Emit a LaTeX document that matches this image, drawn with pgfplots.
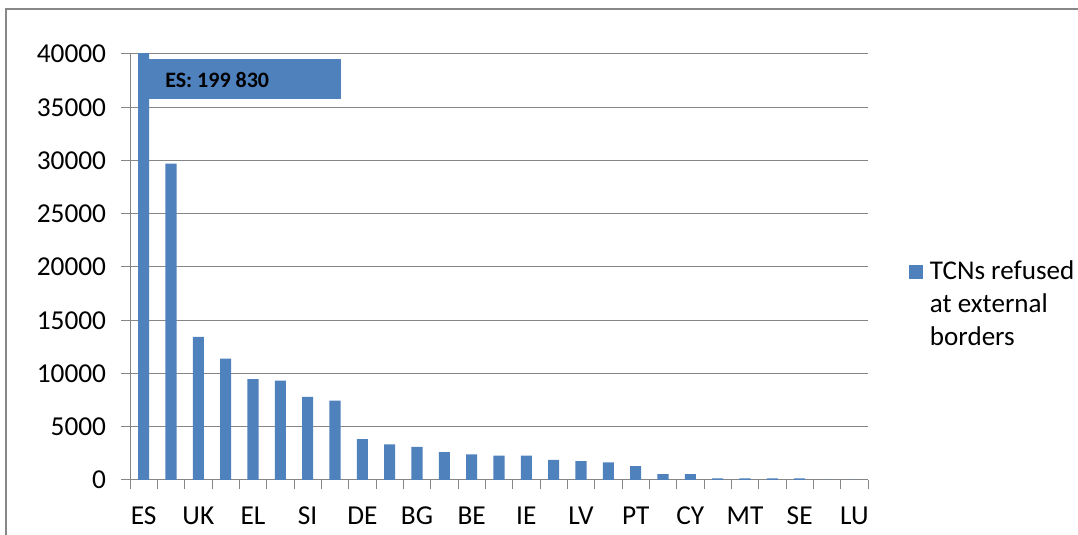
\documentclass[border=0pt]{standalone}
\usepackage{pgfplots}
\pgfplotsset{compat=1.18}
\usepackage{fontspec}
\setmainfont{Carlito}
\definecolor{barblue}{RGB}{79,129,189}
\definecolor{gridgray}{RGB}{134,134,134}
\definecolor{framegray}{RGB}{136,136,136}
\begin{document}
\begin{tikzpicture}[x=1pt,y=1pt]
\useasboundingbox (0,0) rectangle (808.5,401.25);
\draw[framegray, line width=1.5pt] (4.5,-20) rectangle (830,394.5);
\begin{axis}[
  at={(97.5pt,41.25pt)}, anchor=south west,
  scale only axis, width=553.5pt, height=319.5pt,
  xmin=-0.5, xmax=26.5, ymin=0, ymax=40000,
  axis lines*=left,
  axis line style={gridgray, line width=0.75pt, -},
  ytick={0,5000,...,40000},
  scaled y ticks=false,
  yticklabel style={/pgf/number format/1000 sep={}, inner sep=0pt, xshift=-11pt},
  /pgf/number format/assume math mode=true,
  ymajorgrids, grid style={gridgray, line width=0.75pt},
  xtick={-0.5,0.5,...,26.5},
  xticklabels={},
  extra x ticks={0,2,...,26},
  extra x tick labels={ES,UK,EL,SI,DE,BG,BE,IE,LV,PT,CY,MT,SE,LU},
  extra x tick style={major tick length=0pt, xticklabel style={inner sep=0pt, yshift=-20pt}},
  tick align=outside, major tick length=6.75pt,
  tick style={gridgray, line width=0.75pt},
  ticklabel style={font=\fontsize{20.5}{24}\selectfont, text=black},
  ybar, bar width=8.3pt,
  clip=true,
  legend style={at={(axis description cs:1.0556,0.526)}, anchor=north west, draw=none, fill=none,
    inner sep=0pt, column sep=5pt, cells={anchor=base west},
    nodes={inner sep=0pt}, font=\fontsize{20.3}{24.75}\selectfont},
  legend image code/.code={\fill[#1] (0pt,0pt) rectangle (10.5pt,10.5pt);},
]
\addplot[fill=barblue, draw=none] coordinates {
(0,199830) (1,29700) (2,13450) (3,11400) (4,9480) (5,9340) (6,7800) (7,7450)
(8,3840) (9,3340) (10,3120) (11,2620) (12,2400) (13,2280) (14,2280) (15,1900)
(16,1780) (17,1650) (18,1310) (19,560) (20,560) (21,160) (22,160) (23,160)
(24,160) (25,0) (26,0)};
\addlegendentry{\begin{tabular}[t]{@{}l@{}}TCNs refused\\at external\\borders\end{tabular}}
\fill[barblue] (axis cs:0.1,35775) rectangle (axis cs:7.22,39530);
\node[anchor=west, inner sep=0pt, font=\bfseries\fontsize{16.5}{18}\selectfont] at (axis cs:0.78,37600) {ES: 199 830};
\end{axis}
\end{tikzpicture}
\end{document}
